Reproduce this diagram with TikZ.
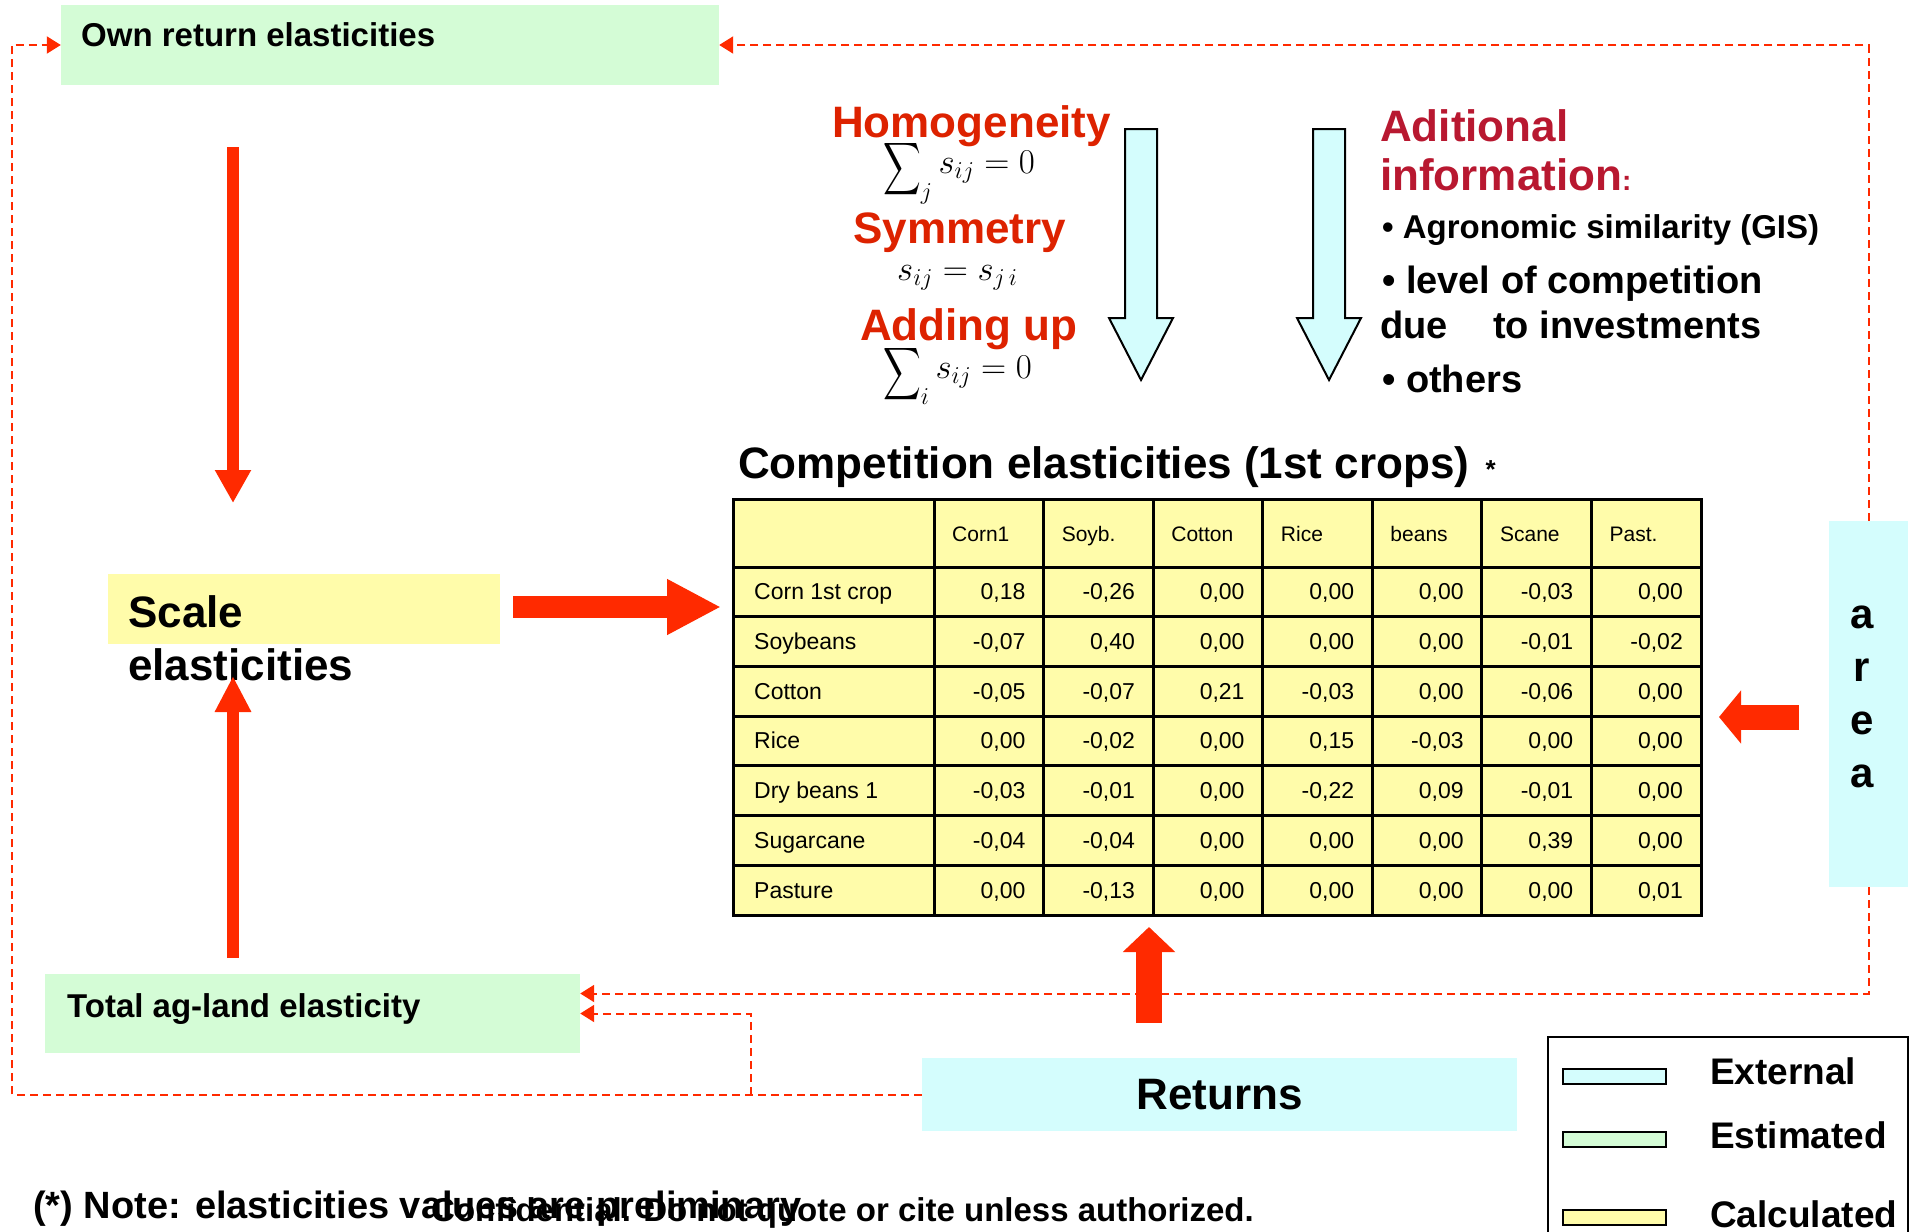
\documentclass[tikz,border=0pt]{standalone}
\usepackage{amsmath}
\usepackage[no-math]{fontspec}
\setmainfont{Liberation Sans}
\usetikzlibrary{arrows.meta}

\definecolor{estgreen}{RGB}{212,252,214}
\definecolor{extcyan}{RGB}{212,253,253}
\definecolor{calcyellow}{RGB}{255,252,170}
\definecolor{flowred}{RGB}{255,42,0}
\definecolor{rulered}{RGB}{221,34,0}
\definecolor{infored}{RGB}{184,24,48}
\newcommand{\fsz}[1]{\fontsize{#1}{#1}\selectfont}
\newcommand{\bigmath}[1]{\scalebox{1.4}{\fsz{24}$#1$}}
\newcommand{\bigsum}{\mathop{\raisebox{-4pt}{\scalebox{0.75}[1.05]{$\displaystyle\sum$}}}\nolimits}

\tikzset{
  estbox/.style={fill=estgreen, inner sep=0pt},
  extbox/.style={fill=extcyan, inner sep=0pt},
  calcbox/.style={fill=calcyellow, inner sep=0pt},
  txt/.style={anchor=base west, inner sep=0pt},
  dashflow/.style={flowred, line width=2pt, dash pattern=on 8pt off 5pt,
    -{Triangle[width=17pt,length=14pt]}},
  blockflow/.style={flowred},
  extarrow/.style={fill=extcyan, draw=black, line width=2pt},
  swatch/.style={draw=black, line width=2pt, minimum width=103, minimum height=15, inner sep=0pt},
  gridline/.style={line width=3pt, line cap=rect},
  cell/.style={inner sep=0pt, font=\fsz{23}},
}

\begin{document}
\begin{tikzpicture}[x=1pt,y=-1pt]
\useasboundingbox (0,0) rectangle (1916,1231);

% ---- boxes of the flow
\node[estbox, minimum width=658, minimum height=80] (own) at (390,45) {};
\node[txt, font=\bfseries\fsz{33}] (owntxt) at (81,47) {Own return elasticities};
\node[calcbox, minimum width=392, minimum height=70] (scale) at (304,609) {};
\node[txt, font=\bfseries\fsz{44}] (scaletxt) at (128,627) {Scale};
\node[txt, font=\bfseries\fsz{44}] (scaletxtb) at (128,680) {elasticities};
\node[estbox, minimum width=535, minimum height=79] (total) at (312.5,1013.5) {};
\node[txt, font=\bfseries\fsz{33}] (totaltxt) at (67,1017) {Total ag-land elasticity};
\node[extbox, minimum width=595, minimum height=73, font=\bfseries\fsz{44}] (returns) at (1219.5,1094.5) {Returns};
\node[extbox, minimum width=79, minimum height=366] (area) at (1868.5,704) {};
\foreach \l [count=\i] in {a,r,e,a}
  \node[inner sep=0pt, anchor=base, font=\bfseries\fsz{42}] (area\i) at (1862,{628+(\i-1)*53}) {\l};

% ---- restrictions
\node[txt, font=\bfseries\fsz{44}, text=rulered] (homog) at (832,137) {Homogeneity};
\node[txt] (homogeq) at (883,173) {\bigmath{\bigsum_{j} s_{ij} = 0}};
\node[txt, font=\bfseries\fsz{44}, text=rulered] (symm) at (853,243) {Symmetry};
\node[txt] (symmeq) at (897,280) {\bigmath{s_{ij} = s_{j\,i}}};
\node[txt, font=\bfseries\fsz{44}, text=rulered] (addup) at (860,340) {Adding up};
\node[txt] (addupeq) at (883,378) {\bigmath{\bigsum_{i} s_{ij} = 0}};
\foreach \ax in {1141,1329}
  \draw[extarrow] (\ax-16,129) -- (\ax+16,129) -- (\ax+16,318) -- (\ax+32,318)
    -- (\ax,380) -- (\ax-32,318) -- (\ax-16,318) -- cycle;

% ---- additional information
\node[txt, font=\bfseries\fsz{44}, text=infored] (addinfo) at (1380,141) {Aditional};
\node[txt, font=\bfseries\fsz{44}, text=infored] (addinfob) at (1380,190) {information\fsz{28}:};
\node[txt, font=\bfseries\fsz{33}] (agro) at (1382,238) {• Agronomic similarity (GIS)};
\node[txt, font=\bfseries\fsz{38}] (level) at (1382,293) {• level of competition};
\node[txt, font=\bfseries\fsz{38}] (invest) at (1380,338) {due\hspace{35pt} to investments};
\node[txt, font=\bfseries\fsz{38}] (others) at (1382,392) {• others};

% ---- competition table
\node[txt, font=\bfseries\fsz{44}] (title) at (738,478) {Competition elasticities (1st crops)};
\node[txt, font=\bfseries\fsz{26}] (star) at ([xshift=16]title.base east) {*};
\fill[calcyellow] (733,499) rectangle (1701,915);
\foreach \gx in {733,934,1043.57,1153.14,1262.71,1372.28,1481.85,1591.42,1701}
  \draw[gridline] (\gx,499) -- (\gx,915);
\foreach \gy in {499,567,616.71,666.43,716.14,765.86,815.57,865.29,915}
  \draw[gridline] (733,\gy) -- (1701,\gy);
\foreach \h [count=\k] in {Corn1,Soyb.,Cotton,Rice,beans,Scane,Past.}
  \node[cell, anchor=base west, font=\fsz{21}] (hd\k) at ({934+(\k-1)*109.57+18},541) {\h};
\foreach \lab/\nA/\nB/\nC/\nD/\nE/\nF/\nG [count=\r] in {
    Corn 1st crop/0{,}18/-0{,}26/0{,}00/0{,}00/0{,}00/-0{,}03/0{,}00,
    Soybeans/-0{,}07/0{,}40/0{,}00/0{,}00/0{,}00/-0{,}01/-0{,}02,
    Cotton/-0{,}05/-0{,}07/0{,}21/-0{,}03/0{,}00/-0{,}06/0{,}00,
    Rice/0{,}00/-0{,}02/0{,}00/0{,}15/-0{,}03/0{,}00/0{,}00,
    Dry beans 1/-0{,}03/-0{,}01/0{,}00/-0{,}22/0{,}09/-0{,}01/0{,}00,
    Sugarcane/-0{,}04/-0{,}04/0{,}00/0{,}00/0{,}00/0{,}39/0{,}00,
    Pasture/0{,}00/-0{,}13/0{,}00/0{,}00/0{,}00/0{,}00/0{,}01}{
  \node[cell, anchor=base west] (r\r-0) at (754,{567+(\r-0.5)*49.71+8}) {\lab};
  \foreach \v [count=\k] in {\nA,\nB,\nC,\nD,\nE,\nF,\nG}
    \node[cell, anchor=base east] (r\r-\k) at ({934+\k*109.57-18},{567+(\r-0.5)*49.71+8}) {\v};
}

% ---- block arrows
\coordinate (ownout) at (233,147);
\coordinate (scalein) at (233,503);
\coordinate (totalout) at (233,958);
\coordinate (scaleinb) at (233,676);
\coordinate (scaleout) at (513,607);
\coordinate (tablein) at (721,607);
\coordinate (areaout) at (1799,717);
\coordinate (tableinb) at (1719,717);
\coordinate (retout) at (1149,1023);
\coordinate (tableinc) at (1149,927);
\draw[blockflow, line width=12pt, -{Triangle[width=34pt,length=33pt]}] (ownout) -- (scalein);
\draw[blockflow, line width=12pt, -{Triangle[width=34pt,length=36pt]}] (totalout) -- (scaleinb);
\draw[blockflow, line width=22pt, -{Triangle[width=52pt,length=54pt]}] (scaleout) -- (tablein);
\draw[blockflow, line width=25pt, -{Triangle[width=52pt,length=22pt]}] (areaout) -- (tableinb);
\draw[blockflow, line width=26pt, -{Triangle[width=51pt,length=25pt]}] (retout) -- (tableinc);

% ---- dashed feedback
\coordinate (lftcorner) at (12,1094.5);
\coordinate (split) at (751,1094.5);
\draw[dashflow] (area.north) |- (own.east);
\draw[dashflow] (returns.west) -- (lftcorner) |- (own.west);
\draw[dashflow] (area.south) |- ([yshift=20]total.east);
\draw[dashflow] (split) |- (total.east);

% ---- legend
\draw[line width=2pt] (1548,1240) -- (1548,1037) -- (1908,1037) -- (1908,1240);
\node[swatch, fill=extcyan] (swext) at (1614.5,1076.5) {};
\node[swatch, fill=estgreen] (swest) at (1614.5,1139.5) {};
\node[swatch, fill=calcyellow] (swcalc) at (1614.5,1217.5) {};
\node[txt, font=\bfseries\fsz{37}] (lgext) at (1710,1084) {External};
\node[txt, font=\bfseries\fsz{37}] (lgest) at (1710,1148) {Estimated};
\node[txt, font=\bfseries\fsz{37}] (lgcalc) at (1710,1227) {Calculated};

% ---- notes
\node[txt, font=\bfseries\fsz{38}] (note) at (33,1218) {(*) Note: elasticities values are preliminary};
\node[txt, font=\bfseries\fsz{33}] (confid) at (431,1221) {Confidential. Do not quote or cite unless authorized.};
\end{tikzpicture}
\end{document}
